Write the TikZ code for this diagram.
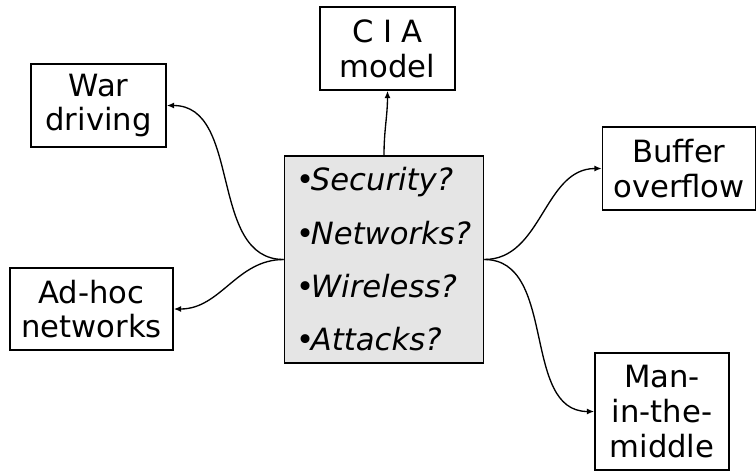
\documentclass[tikz,border=0pt]{standalone}
\usepackage{fontspec}
\setmainfont{DejaVu Sans}
\usetikzlibrary{arrows.meta}

\begin{document}
\begin{tikzpicture}[x=0.75pt,y=-0.75pt,line width=1pt,-{Latex[length=5.5pt,width=4.5pt]}]
    \tikzstyle{topic}=[rectangle,draw=black,line width=1.2pt,fill=white,align=center,inner sep=0pt,
        font=\fontsize{23}{26}\selectfont]
    \useasboundingbox (0,0) rectangle (756,472);

    \node[rectangle,draw=black,line width=1.2pt,fill=gray!20,minimum width=149.25pt,minimum height=155.25pt,
        align=left,inner sep=0pt,font=\fontsize{23}{40}\selectfont] (hub) at (384,259.5)
        {•\hspace{-3pt}\textit{Security?}\\•\hspace{-3pt}\textit{Networks?}\\
         •\hspace{-3pt}\textit{Wireless?}\\•\hspace{-3pt}\textit{Attacks?}};

    \node[topic,minimum width=101.25pt,minimum height=62.25pt] (cia) at (387.5,48.5) {C I A\\model};
    \node[topic,minimum width=101.25pt,minimum height=62.25pt] (war) at (98.5,105.5) {War\\driving};
    \node[topic,minimum width=114.75pt,minimum height=62.25pt] (buf) at (679,168.5) {Buffer\\overflow};
    \node[topic,minimum width=122.25pt,minimum height=61.5pt] (adhoc) at (91.5,309) {Ad-hoc\\networks};
    \node[topic,minimum width=100.5pt,minimum height=87.75pt] (mitm) at (662,411.5) {Man-\\in-the-\\middle};

        \draw (hub.north) to[out=90,in=-90] (cia.south);
        \foreach \to in {war, adhoc}
            \draw (hub.west) to[out=180,in=0] (\to.east);
        \foreach \to in {buf, mitm}
            \draw (hub.east) to[out=0,in=180] (\to.west);
\end{tikzpicture}
\end{document}
